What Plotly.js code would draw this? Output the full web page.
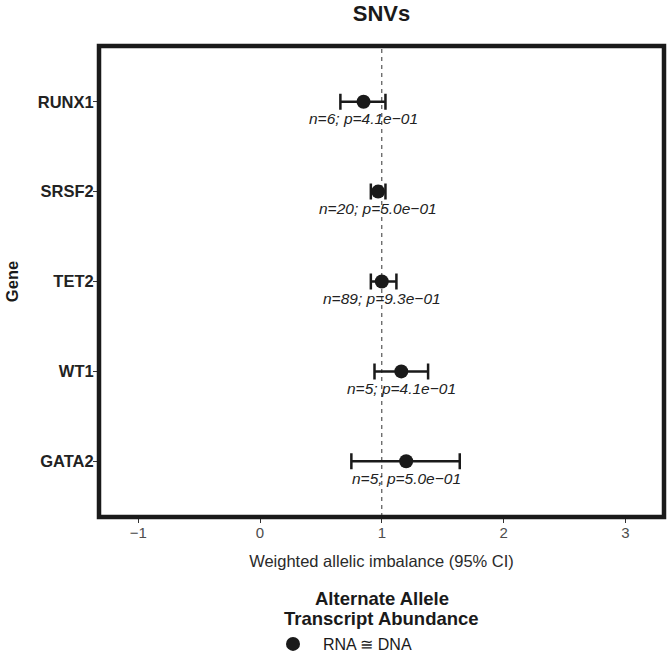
<!DOCTYPE html>
<html>
<head>
<meta charset="utf-8">
<script src="https://cdn.plot.ly/plotly-3.0.1.min.js"></script>
<style>html,body{margin:0;padding:0;background:#fff;}#chart{width:667px;height:654px;}</style>
</head>
<body>
<div id="chart"></div>
<script>
// Data
const genes = ["GATA2", "WT1", "TET2", "SRSF2", "RUNX1"];
const estimate = [1.20, 1.16, 1.00, 0.97, 0.85];
const ciLow = [0.75, 0.94, 0.91, 0.91, 0.66];
const ciHigh = [1.64, 1.38, 1.12, 1.03, 1.03];
const nVals = [5, 5, 89, 20, 6];
const pLabels = ["5.0e\u221201", "4.1e\u221201", "9.3e\u221201", "5.0e\u221201", "4.1e\u221201"];
const refLine = 1;
const xTicks = [-1, 0, 1, 2, 3];
const xTickText = ["\u22121", "0", "1", "2", "3"];
const legendName = "RNA \u2245 DNA";
const legendTitleLines = ["Alternate Allele", "Transcript Abundance"];

const FONT = "Liberation Sans, Arial, Helvetica, sans-serif";
const INK = "#1a1a1a";

// plot area geometry in px (for paper-coordinate annotations)
const W = 667, H = 654;
const mL = 99, mR = 3, mT = 45.5, mB = 137;
const pw = W - mL - mR, ph = H - mT - mB;
const py2paperY = py => (H - mB - py) / ph;

const trace = {
  type: "scatter",
  mode: "markers",
  x: estimate,
  y: genes,
  name: legendName,
  marker: {size: 14, color: INK, symbol: "circle"},
  error_x: {
    type: "data",
    symmetric: false,
    array: estimate.map((e, i) => ciHigh[i] - e),
    arrayminus: estimate.map((e, i) => e - ciLow[i]),
    color: INK,
    thickness: 2.5,
    width: 8
  },
  showlegend: true,
  hoverinfo: "skip"
};

const annotations = genes.map((g, i) => ({
  x: estimate[i], y: g, xref: "x", yref: "y",
  text: "<i>n=" + nVals[i] + "; p=" + pLabels[i] + "</i>",
  showarrow: false, yshift: -17,
  font: {family: FONT, size: 15.5, color: "#222"}
}));
legendTitleLines.forEach((t, k) => {
  annotations.push({
    x: 0.5, y: py2paperY(599 + 20 * k), xref: "paper", yref: "paper",
    text: "<b>" + t + "</b>", showarrow: false,
    xanchor: "center", yanchor: "middle",
    font: {family: FONT, size: 18.5, color: INK}
  });
});

const layout = {
  width: W, height: H,
  margin: {l: mL, r: mR, t: mT, b: mB, pad: 0},
  paper_bgcolor: "#fff", plot_bgcolor: "#fff",
  font: {family: FONT, color: INK},
  title: {
    text: "<b>SNVs</b>", xref: "paper", x: 0.5, xanchor: "center",
    yref: "container", y: 1 - 13 / H, yanchor: "middle",
    font: {family: FONT, size: 22, color: INK}
  },
  xaxis: {
    range: [-1.322, 3.317],
    tickvals: xTicks, ticktext: xTickText,
    ticks: "outside", ticklen: 5, tickwidth: 1, tickcolor: "#333",
    ticklabelstandoff: -3,
    showgrid: false, zeroline: false, showline: false,
    tickfont: {family: FONT, size: 15, color: "#4d4d4d"},
    title: {text: "Weighted allelic imbalance (95% CI)", standoff: 15,
            font: {family: FONT, size: 16.5, color: "#2a2a2a"}},
    automargin: false, fixedrange: true
  },
  yaxis: {
    type: "category",
    categoryorder: "array", categoryarray: genes,
    range: [-0.62, 4.62],
    ticks: "outside", ticklen: 5, tickwidth: 1, tickcolor: "#333",
    ticklabelstandoff: -4,
    showgrid: false, zeroline: false, showline: false,
    tickfont: {family: FONT, size: 16.5, color: "#222", weight: "bold"},
    title: {text: "<b>Gene</b>", standoff: 14,
            font: {family: FONT, size: 16.5, color: INK}},
    automargin: false, fixedrange: true
  },
  shapes: [
    {type: "line", xref: "x", yref: "paper", x0: refLine, x1: refLine, y0: 0, y1: 1,
     line: {color: "#333", width: 1, dash: "4px,4px"}, layer: "below"},
    {type: "rect", xref: "paper", yref: "paper", x0: 0, x1: 1, y0: 0, y1: 1,
     line: {color: INK, width: 4.5}, fillcolor: "rgba(0,0,0,0)", layer: "above"}
  ],
  annotations: annotations,
  showlegend: true,
  legend: {
    orientation: "h",
    xref: "container", x: 263 / W, xanchor: "left",
    yref: "container", y: 1 - 644 / H, yanchor: "middle",
    font: {family: FONT, size: 16, color: INK},
    itemwidth: 50, bgcolor: "rgba(0,0,0,0)", borderwidth: 0,
    tracegroupgap: 0
  }
};

Plotly.newPlot("chart", [trace], layout, {displayModeBar: false, staticPlot: true});
</script>
</body>
</html>
